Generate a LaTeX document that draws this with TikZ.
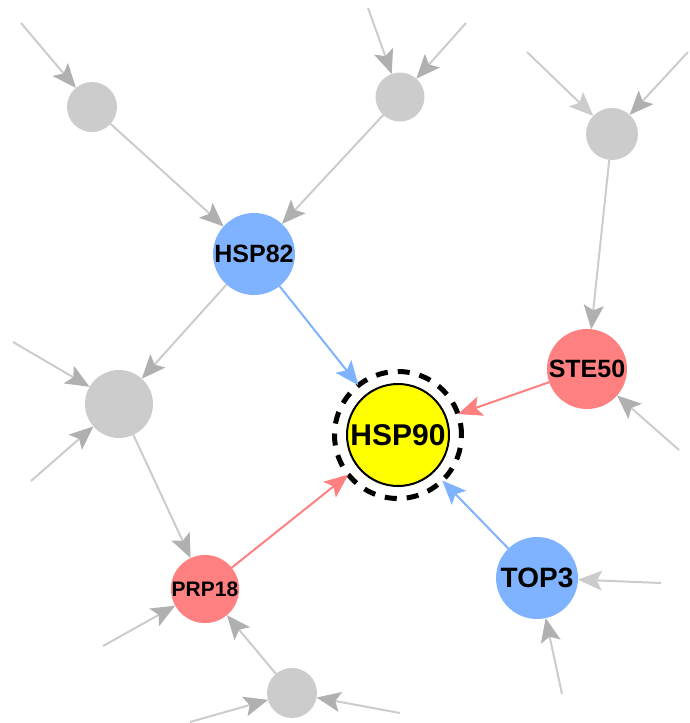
\documentclass[tikz,border=0pt]{standalone}
\usepackage{fontspec}
\setmainfont{Liberation Sans}
\usetikzlibrary{arrows.meta}
\definecolor{gnode}{HTML}{CCCCCC}
\definecolor{gline}{HTML}{CCCCCC}
\definecolor{gtip}{HTML}{B0B0B0}
\definecolor{bnode}{HTML}{80B3FF}
\definecolor{rnode}{HTML}{FF8080}
\definecolor{ynode}{HTML}{FFFF00}
\tikzset{
  gray node/.style={circle, fill=gnode, inner sep=0pt, outer sep=0pt, minimum size=#1},
  blue node/.style={circle, fill=bnode, inner sep=0pt, outer sep=0pt, minimum size=#1, font=\bfseries},
  red node/.style={circle, fill=rnode, inner sep=0pt, outer sep=0pt, minimum size=#1, font=\bfseries},
  bigtip/.tip={Stealth[length=24pt 0,width=20pt 0,inset=5pt 0]},
  gedge/.style={draw=gline, line width=2pt, -{bigtip[gtip]}},
  gedgelight/.style={draw=gline, line width=2pt, -{bigtip[gline]}},
  bedge/.style={draw=bnode, line width=2pt, -{bigtip}},
  redge/.style={draw=rnode, line width=2pt, -{bigtip}},
}
\begin{document}
\begin{tikzpicture}[x=1pt,y=-1pt]
\useasboundingbox (0,0) rectangle (689,723);
% nodes
\node[gray node=50pt] (A) at (92,107) {};
\node[gray node=49pt] (B) at (400,97) {};
\node[gray node=52pt] (C) at (612,134) {};
\node[gray node=68pt] (D) at (119,404) {};
\node[gray node=50pt] (E) at (292,693) {};
\node[blue node=82pt, font=\bfseries\fontsize{25}{25}\selectfont] (HSP82) at (254,254) {HSP82};
\node[red node=80pt, font=\bfseries\fontsize{25}{25}\selectfont] (STE50) at (587,369) {STE50};
\node[blue node=82pt, font=\bfseries\fontsize{28}{28}\selectfont] (TOP3) at (537,578) {TOP3};
\node[red node=66pt, font=\bfseries\fontsize{21}{21}\selectfont] (PRP18) at (205,589) {PRP18};
\node[circle, draw=black, line width=5pt, dash pattern=on 12pt off 10pt, inner sep=0pt, outer sep=0pt, minimum size=127pt] (ring) at (398,435) {};
\node[circle, fill=ynode, draw=black, line width=2pt, inner sep=0pt, outer sep=0pt, minimum size=102pt, font=\bfseries\fontsize{30}{30}\selectfont] (HSP90) at (398,435) {HSP90};
% free ends
\coordinate (fA) at (21,23);
\coordinate (fB1) at (368,8);
\coordinate (fB2) at (466,23);
\coordinate (fC1) at (527,52);
\coordinate (fC2) at (688,52);
\coordinate (fD1) at (13,342);
\coordinate (fD2) at (31,481);
\coordinate (fS) at (679,450);
\coordinate (fT1) at (661,583);
\coordinate (fT2) at (562,694);
\coordinate (fP) at (103,646);
\coordinate (fE1) at (190,722);
\coordinate (fE2) at (400,713);
% gray edges
\draw[gedge] (fA) -- (A);
\draw[gedge] (fB1) -- (B);
\draw[gedge] (fB2) -- (B);
\draw[gedgelight] (fC1) -- (C);
\draw[gedge] (fC2) -- (C);
\draw[gedge] (fD1) -- (D);
\draw[gedge] (fD2) -- (D);
\draw[gedge] (fS) -- (STE50);
\draw[gedgelight] (fT1) -- (TOP3);
\draw[gedge] (fT2) -- (TOP3);
\draw[gedge] (fP) -- (PRP18);
\draw[gedge] (fE1) -- (E);
\draw[gedge] (fE2) -- (E);
\draw[gedge] (A) -- (HSP82);
\draw[gedge] (B) -- (HSP82);
\draw[gedge] (HSP82) -- (D);
\draw[gedge] (D) -- (PRP18);
\draw[gedge] (C) -- (STE50);
\draw[gedge] (E) -- (PRP18);
% colored edges
\draw[bedge] (HSP82) -- (ring);
\draw[redge] (STE50) -- (ring);
\draw[bedge] (TOP3) -- (ring);
\draw[redge] (PRP18) -- (ring);
\end{tikzpicture}
\end{document}
